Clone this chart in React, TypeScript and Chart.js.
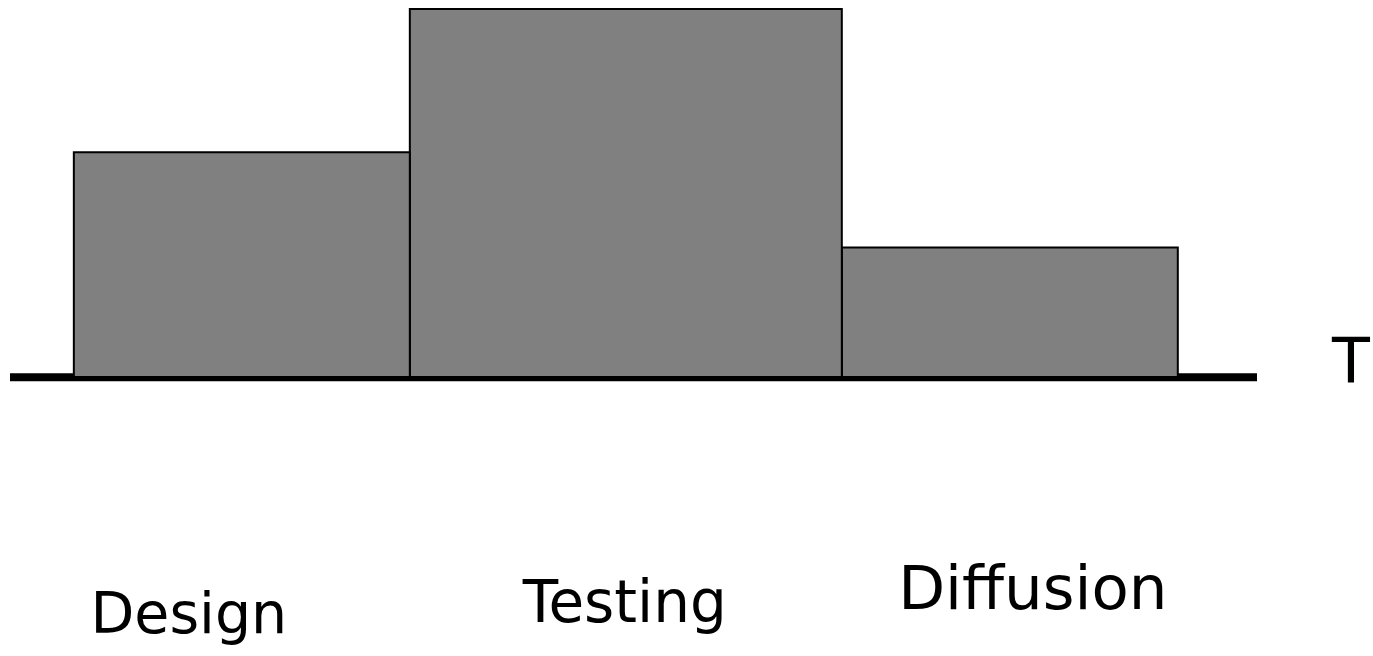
import React, { useEffect, useRef } from "react";
import { Chart, registerables } from "chart.js";

Chart.register(...registerables);

// Phases of the process, their durations (time units) and relative effort
const phases = ["Design", "Testing", "Diffusion"];
const durations = [7, 9, 7];
const effort = [6.1, 10, 3.5];
const axisLabel = "T";

const xMin = -1.33;
const xMax = 24.65;
const yMax = 10;
const axisLevel = -0.035;

export default function App() {
  const ref = useRef<HTMLCanvasElement | null>(null);

  useEffect(() => {
    if (!ref.current) return;

    const starts: number[] = [];
    let acc = 0;
    durations.forEach((d) => {
      starts.push(acc);
      acc += d;
    });

    const barSets = phases.map((name, i) => {
      const x0 = starts[i];
      const x1 = starts[i] + durations[i];
      const h = effort[i];
      return {
        label: name,
        data: [
          { x: x0, y: 0 },
          { x: x0, y: h },
          { x: x1, y: h },
          { x: x1, y: 0 },
        ],
        borderColor: "#000000",
        borderWidth: 2,
        backgroundColor: "#808080",
        fill: "origin",
        pointRadius: 0,
        tension: 0,
        order: 1,
        clip: false as const,
      };
    });

    const axisSet = {
      label: "axis",
      data: [
        { x: xMin, y: axisLevel },
        { x: xMax, y: axisLevel },
      ],
      borderColor: "#000000",
      borderWidth: 8,
      backgroundColor: "#000000",
      fill: false,
      pointRadius: 0,
      borderCapStyle: "butt" as const,
      order: 10,
      clip: false as const,
    };

    const labelDx = [-53, -1, 23];
    const labelBase = [257, 246, 233];
    const labelSize = [57, 58, 61];

    const labelsPlugin = {
      id: "phaseLabels",
      afterDraw(chart: any) {
        const ctx = chart.ctx as CanvasRenderingContext2D;
        const xs = chart.scales.x;
        const ys = chart.scales.y;
        const y0 = ys.getPixelForValue(0);
        ctx.save();
        ctx.fillStyle = "#000000";
        ctx.textAlign = "center";
        ctx.textBaseline = "alphabetic";
        phases.forEach((name, i) => {
          const mid = starts[i] + durations[i] / 2;
          const px = xs.getPixelForValue(mid) + labelDx[i];
          ctx.font = `${labelSize[i]}px 'DejaVu Sans', sans-serif`;
          ctx.fillText(name, px, y0 + labelBase[i]);
        });
        ctx.font = "62px 'DejaVu Sans', sans-serif";
        ctx.fillText(axisLabel, xs.right + 94, y0 + 6);
        ctx.restore();
      },
    };

    const chart = new Chart(ref.current, {
      type: "line",
      data: { datasets: [...barSets, axisSet] as any },
      options: {
        animation: false,
        responsive: false,
        devicePixelRatio: 1,
        layout: { padding: { top: 9, bottom: 280, left: 10, right: 116 } },
        plugins: {
          legend: { display: false },
          tooltip: { enabled: false },
        },
        scales: {
          x: { type: "linear", min: xMin, max: xMax, display: false },
          y: { type: "linear", min: 0, max: yMax, display: false },
        },
      },
      plugins: [labelsPlugin],
    });

    return () => chart.destroy();
  }, []);

  return (
    <canvas
      ref={ref}
      width={1373}
      height={656}
      style={{ position: "absolute", left: 0, top: 0, display: "block", background: "#ffffff" }}
    />
  );
}
